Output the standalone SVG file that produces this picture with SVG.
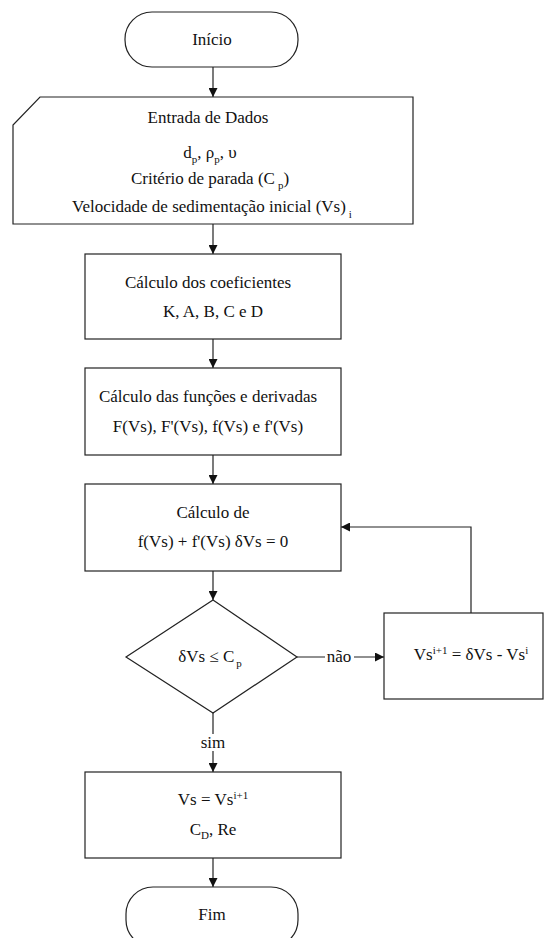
<svg xmlns="http://www.w3.org/2000/svg" width="544" height="938" viewBox="0 0 544 938">
<style>
.s{fill:#fff;stroke:#222;stroke-width:1.2}
.t{font-family:'Liberation Serif','DejaVu Serif','Times New Roman',serif;font-size:17px;fill:#111;text-anchor:middle}
.sub{font-size:11px}
.c{fill:none;stroke:#222;stroke-width:1.2}
.lb{fill:#fff}
</style>
<defs>
<marker id="ah" viewBox="0 0 10 10" refX="10" refY="5" markerWidth="9" markerHeight="9" markerUnits="userSpaceOnUse" orient="auto">
<path d="M0,0 L10,5 L0,10 Z" fill="#111"/>
</marker>
</defs>
<rect width="544" height="938" fill="#fff"/>
<g id="connectors">
<line class="c" x1="213" y1="67" x2="213" y2="97" marker-end="url(#ah)"/>
<line class="c" x1="213" y1="224" x2="213" y2="254" marker-end="url(#ah)"/>
<line class="c" x1="213" y1="339" x2="213" y2="368" marker-end="url(#ah)"/>
<line class="c" x1="213" y1="455" x2="213" y2="484" marker-end="url(#ah)"/>
<line class="c" x1="213" y1="571" x2="213" y2="600" marker-end="url(#ah)"/>
<line class="c" x1="297" y1="657" x2="384" y2="657" marker-end="url(#ah)"/>
<rect class="lb" x="325" y="648" width="29" height="17"/>
<text class="t" x="339" y="662" font-family="Liberation Serif, serif">não</text>
<polyline class="c" points="471,613 471,527 341,527" marker-end="url(#ah)"/>
<line class="c" x1="213" y1="713" x2="213" y2="772" marker-end="url(#ah)"/>
<rect class="lb" x="199" y="734" width="28" height="17"/>
<text class="t" x="213" y="748" font-family="Liberation Serif, serif">sim</text>
<line class="c" x1="213" y1="858" x2="213" y2="887" marker-end="url(#ah)"/>
</g>
<g id="inicio">
<rect class="s" x="125" y="12" width="173" height="55" rx="27" ry="27"/>
<text class="t" x="212" y="45" font-family="Liberation Serif, serif">Início</text>
</g>
<g id="entrada" font-family="Liberation Serif, serif">
<polygon class="s" points="40,97 413,97 413,224 13,224 13,125"/>
<text class="t" x="208" y="123">Entrada de Dados</text>
<text class="t" x="210" y="158">d<tspan class="sub" dy="5">p</tspan><tspan dy="-5">, ρ</tspan><tspan class="sub" dy="5">p</tspan><tspan dy="-5">, υ</tspan></text>
<text class="t" x="210" y="184">Critério de parada (C<tspan class="sub" dx="3" dy="5">p</tspan><tspan dy="-5">)</tspan></text>
<text class="t" x="212" y="212">Velocidade de sedimentação inicial (Vs)<tspan class="sub" dx="3" dy="6">i</tspan></text>
</g>
<g id="coeficientes">
<rect class="s" x="85" y="254" width="256" height="85"/>
<text class="t" x="208" y="288">Cálculo dos coeficientes</text>
<text class="t" x="213" y="317">K, A, B, C e D</text>
</g>
<g id="funcoes">
<rect class="s" x="85" y="368" width="256" height="87"/>
<text class="t" x="208" y="402">Cálculo das funções e derivadas</text>
<text class="t" x="208" y="432">F(Vs), F'(Vs), f(Vs) e  f'(Vs)</text>
</g>
<g id="calculo">
<rect class="s" x="85" y="484" width="256" height="87"/>
<text class="t" x="213" y="518">Cálculo de</text>
<text class="t" x="213" y="547">f(Vs) + f'(Vs) δVs = 0</text>
</g>
<g id="decisao">
<polygon class="s" points="213,600 297,657 213,713 126,657"/>
<text class="t" x="210" y="662">δVs ≤ C<tspan class="sub" dx="2" dy="5">p</tspan></text>
</g>
<g id="atualiza">
<rect class="s" x="384" y="613" width="159" height="86"/>
<text class="t" x="471" y="660">Vs<tspan class="sub" dy="-6">i+1</tspan><tspan dy="6"> = δVs - Vs</tspan><tspan class="sub" dy="-6">i</tspan></text>
</g>
<g id="resultado">
<rect class="s" x="85" y="772" width="256" height="86"/>
<text class="t" x="213" y="805">Vs = Vs<tspan class="sub" dy="-6">i+1</tspan></text>
<text class="t" x="213" y="835">C<tspan class="sub" dy="4">D</tspan><tspan dy="-4">, Re</tspan></text>
</g>
<g id="fim">
<rect class="s" x="126" y="887" width="172" height="60" rx="27" ry="27"/>
<text class="t" x="212" y="920">Fim</text>
</g>
</svg>
